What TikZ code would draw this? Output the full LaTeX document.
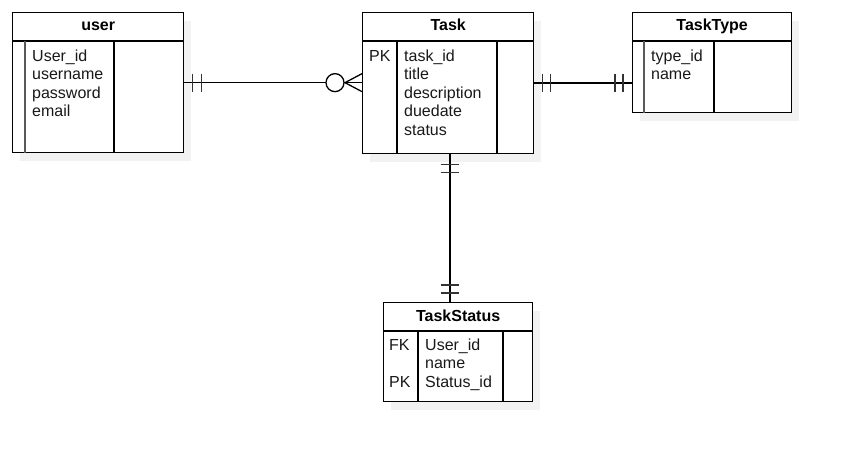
\documentclass[tikz,border=0pt]{standalone}
\usepackage{fontspec}
\setmainfont{Liberation Sans}
\usetikzlibrary{calc,positioning,shadows}

\begin{document}
\begin{tikzpicture}[x=1pt, y=-1pt,
  font=\fontsize{16}{18.5}\selectfont,
  tbl/.style={draw, line width=1.3pt, fill=white, inner sep=0pt, anchor=north west,
    drop shadow={shadow xshift=7pt, shadow yshift=-8pt, fill=black!5, opacity=1}},
  head/.style={anchor=base, font=\fontsize{16}{18.5}\selectfont\bfseries},
  fld/.style={anchor=north west, align=left, inner sep=0pt, text=black!90},
  div/.style={line width=1.3pt},
  keyline/.style={line width=2pt, draw=black!65},
  rel/.style={line width=1.3pt},
  tick/.style={line width=1.6pt, draw=black!80}]

\useasboundingbox (0,0) rectangle (841,452);

% tables
\node[tbl, minimum width=171pt, minimum height=140pt] (user) at (12,12) {};
\node[tbl, minimum width=171pt, minimum height=141pt] (Task) at (362,12) {};
\node[tbl, minimum width=159pt, minimum height=100pt] (TaskType) at (632,12) {};
\node[tbl, minimum width=149pt, minimum height=99pt] (TaskStatus) at (383,302) {};

% user
\draw[div] ($(user.north west)+(0,29)$) -- ($(user.north east)+(0,29)$);
\draw[keyline] ($(user.north west)+(13,29)$) -- ($(user.south west)+(13,0)$);
\draw[div] ($(user.north west)+(102,29)$) -- ($(user.south west)+(102,0)$);
\node[head] (userHead) at ($(user.north)+(0,19)$) {user};
\node[fld] (userFields) at ($(user.north west)+(20,36)$)
  {\strut User\_id\\username\\password\\email};

% Task
\draw[div] ($(Task.north west)+(0,29)$) -- ($(Task.north east)+(0,29)$);
\draw[div] ($(Task.north west)+(35,29)$) -- ($(Task.south west)+(35,0)$);
\draw[div] ($(Task.north west)+(135,29)$) -- ($(Task.south west)+(135,0)$);
\node[head] (taskHead) at ($(Task.north)+(0,19)$) {Task};
\node[fld] (taskKeys) at ($(Task.north west)+(7,36)$) {\strut PK};
\node[fld] (taskFields) at ($(Task.north west)+(42,36)$)
  {\strut task\_id\\title\\description\\duedate\\status};

% TaskType
\draw[div] ($(TaskType.north west)+(0,29)$) -- ($(TaskType.north east)+(0,29)$);
\draw[keyline] ($(TaskType.north west)+(12,29)$) -- ($(TaskType.south west)+(12,0)$);
\draw[div] ($(TaskType.north west)+(82,29)$) -- ($(TaskType.south west)+(82,0)$);
\node[head] (typeHead) at ($(TaskType.north)+(0,19)$) {TaskType};
\node[fld] (typeFields) at ($(TaskType.north west)+(19,36)$)
  {\strut type\_id\\name};

% TaskStatus
\draw[div] ($(TaskStatus.north west)+(0,29)$) -- ($(TaskStatus.north east)+(0,29)$);
\draw[div] ($(TaskStatus.north west)+(35,29)$) -- ($(TaskStatus.south west)+(35,0)$);
\draw[div] ($(TaskStatus.north west)+(120,29)$) -- ($(TaskStatus.south west)+(120,0)$);
\node[head] (statusHead) at ($(TaskStatus.north)+(0,19)$) {TaskStatus};
\node[fld] (statusKeys) at ($(TaskStatus.north west)+(6,35)$) {\strut FK\\\\PK};
\node[fld] (statusFields) at ($(TaskStatus.north west)+(42,35)$)
  {\strut User\_id\\name\\Status\_id};

% user -- Task (one to zero-or-many)
\coordinate (crow) at ($(user.east -| Task.west)+(-17,0)$);
\draw[rel] (user.east) -- (user.east -| Task.west);
\draw[tick] ($(user.east)+(8,-9)$) -- ++(0,18);
\draw[tick] ($(user.east)+(17,-9)$) -- ++(0,18);
\draw[rel, fill=white] ($(crow)+(-10,0)$) circle[radius=9];
\draw[rel] ($(crow)+(17,-9)$) -- (crow) -- ($(crow)+(17,9)$);

% Task -- TaskType (one to one)
\draw[rel] (Task.east) -- (Task.east -| TaskType.west);
\draw[tick] ($(Task.east)+(8,-9)$) -- ++(0,18);
\draw[tick] ($(Task.east)+(16,-9)$) -- ++(0,18);
\draw[tick] ($(Task.east -| TaskType.west)+(-17,-9)$) -- ++(0,18);
\draw[tick] ($(Task.east -| TaskType.west)+(-9,-9)$) -- ++(0,18);

% Task -- TaskStatus (one to one)
\coordinate (vs) at ($(Task.south west)+(88,0)$);
\draw[rel] (vs) -- (vs |- TaskStatus.north);
\draw[tick] ($(vs)+(-9,10)$) -- ++(18,0);
\draw[tick] ($(vs)+(-9,18)$) -- ++(18,0);
\draw[tick] ($(vs |- TaskStatus.north)+(-9,-17)$) -- ++(18,0);
\draw[tick] ($(vs |- TaskStatus.north)+(-9,-9)$) -- ++(18,0);
\end{tikzpicture}
\end{document}
